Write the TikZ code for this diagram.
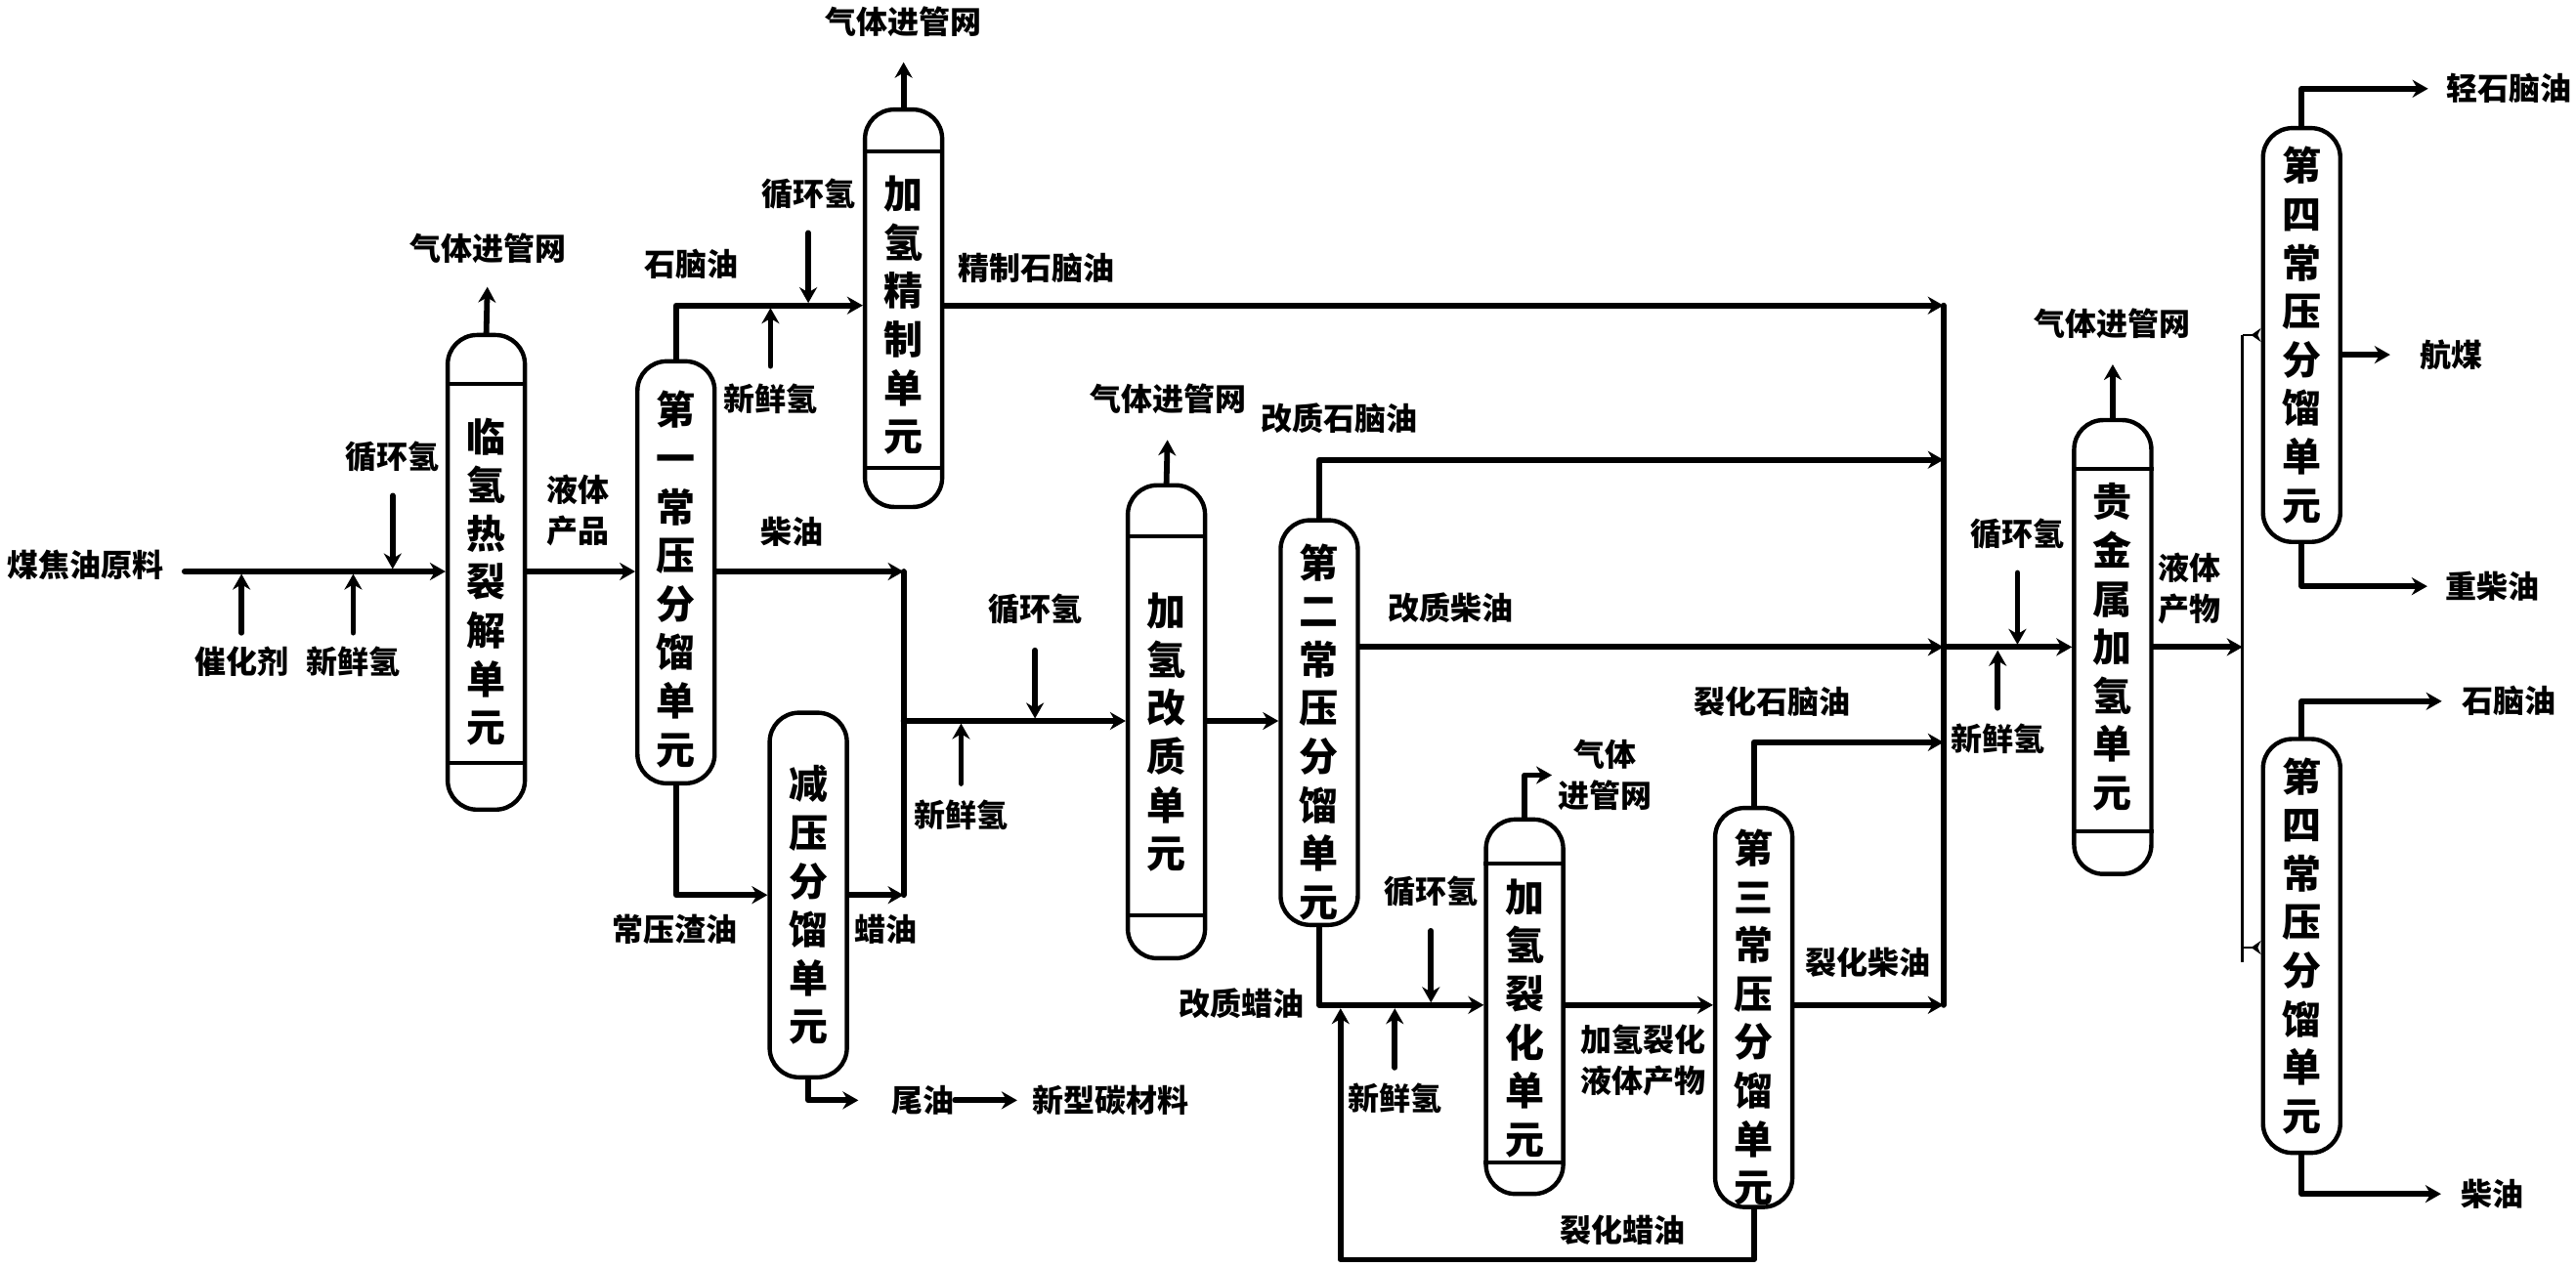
\documentclass[tikz,border=0pt]{standalone}
\usepackage{fontspec}
\newfontfamily\cjk{Noto Sans CJK SC}
\usetikzlibrary{arrows.meta,calc}
\newcommand\dn[1]{\rule{0pt}{\dimexpr17.6pt+#1pt*2\relax}}
\tikzset{
  flow/.style={line width=2.9pt,line join=round,line cap=round,-{Stealth[length=8pt,width=9pt]}},
  pipe/.style={line width=2.9pt,line join=round,line cap=round},
  thinflow/.style={line width=1.2pt,-{Stealth[reversed,length=5pt,width=7pt]}},
  thinpipe/.style={line width=1.4pt},
  headline/.style={line width=2pt},
  vessel/.style={draw,line width=2.2pt,rounded corners=15pt,fill=white,align=center,inner sep=0pt,
     minimum width=47*0.8405pt,font=\cjk\bfseries\fontsize{20}{24.8}\selectfont},
  tag/.style={inner sep=0pt,align=center,font=\cjk\bfseries\fontsize{16}{21}\selectfont},
}
\begin{document}
\begin{tikzpicture}[x=0.8405pt,y=-0.8405pt]
\useasboundingbox (0,0) rectangle (1568,771);
% levels
\coordinate (lvA) at (0,348);
\coordinate (lvB) at (0,186);
\coordinate (lvC) at (0,545);
\coordinate (lvD) at (0,439);
\coordinate (lvE) at (0,280);
\coordinate (lvF) at (0,394);
\coordinate (lvG) at (0,612);
\coordinate (lvH) at (0,452);
\coordinate (lvI) at (0,767);
\coordinate (lvJ) at (0,204);
\coordinate (lvK) at (0,577);
\coordinate (lvL) at (0,586);
\coordinate (bus) at (550,0);
\coordinate (busb) at (1183,0);
\coordinate (busc) at (1365,0);
\coordinate (recyc) at (816,0);
% vessels
\node[vessel,minimum height=289*0.8405pt] (v1) at (296,348.5) {\dn{4.6}临\\氢\\热\\裂\\解\\单\\元};
\node[vessel,minimum height=257*0.8405pt] (v2) at (411.5,348.5) {\dn{3.4}第\\一\\常\\压\\分\\馏\\单\\元};
\node[vessel,minimum height=242*0.8405pt] (v3) at (550,187.7) {\dn{3.2}加\\氢\\精\\制\\单\\元};
\node[vessel,minimum height=222*0.8405pt] (v4) at (492,545) {\dn{5}减\\压\\分\\馏\\单\\元};
\node[vessel,minimum height=288*0.8405pt] (v5) at (710,439.5) {\dn{5}加\\氢\\改\\质\\单\\元};
\node[vessel,minimum height=246.4*0.8405pt] (v6) at (803,440) {\dn{4.6}第\\二\\常\\压\\分\\馏\\单\\元};
\node[vessel,minimum height=228*0.8405pt] (v7) at (928,613) {\dn{5.5}加\\氢\\裂\\化\\单\\元};
\node[vessel,minimum height=243*0.8405pt] (v8) at (1067.5,613.5) {\dn{5}第\\三\\常\\压\\分\\馏\\单\\元};
\node[vessel,minimum height=276.4*0.8405pt] (v9) at (1286,394) {贵\\金\\属\\加\\氢\\单\\元};
\node[vessel,minimum height=252*0.8405pt] (v10) at (1401,204) {第\\四\\常\\压\\分\\馏\\单\\元};
\node[vessel,minimum height=252*0.8405pt] (v11) at (1401,576) {第\\四\\常\\压\\分\\馏\\单\\元};
% head and foot lines
\draw[headline] (v1.west |- 0,234) -- (v1.east |- 0,234);
\draw[headline] (v1.west |- 0,464.6) -- (v1.east |- 0,464.6);
\draw[headline] (v3.west |- 0,92) -- (v3.east |- 0,92);
\draw[headline] (v3.west |- 0,285) -- (v3.east |- 0,285);
\draw[headline] (v5.west |- 0,326.6) -- (v5.east |- 0,326.6);
\draw[headline] (v5.west |- 0,557.6) -- (v5.east |- 0,557.6);
\draw[headline] (v7.west |- 0,526) -- (v7.east |- 0,526);
\draw[headline] (v7.west |- 0,708) -- (v7.east |- 0,708);
\draw[headline] (v9.west |- 0,285.5) -- (v9.east |- 0,285.5);
\draw[headline] (v9.west |- 0,506) -- (v9.east |- 0,506);
% labels
\node[tag] (feed) at (52,344) {煤焦油原料};
\node[tag] (rec1) at (239,278) {循环氢};
\node[tag] (cat) at (147,403) {催化剂};
\node[tag] (new1) at (215,403) {新鲜氢};
\node[tag] (gas1) at (297,151) {气体进管网};
\node[tag] (liq1) at (352,311) {液体\\产品};
\node[tag] (nap1) at (421,161) {石脑油};
\node[tag] (rec2) at (492,118) {循环氢};
\node[tag] (new2) at (469,243) {新鲜氢};
\node[tag] (gas2) at (550,13) {气体进管网};
\node[tag] (fnap) at (631,163) {精制石脑油};
\node[tag] (die1) at (482,324) {柴油};
\node[tag] (res1) at (411,566) {常压渣油};
\node[tag] (wax1) at (539,566) {蜡油};
\node[tag] (tail) at (562,670) {尾油};
\node[tag] (carb) at (676,670) {新型碳材料};
\node[tag] (rec3) at (630,371) {循环氢};
\node[tag] (new3) at (585,496) {新鲜氢};
\node[tag] (gas3) at (711,243) {气体进管网};
\node[tag] (gnap) at (815,255) {改质石脑油};
\node[tag] (gdie) at (883,370) {改质柴油};
\node[tag] (gwax) at (756,611) {改质蜡油};
\node[tag] (rec4) at (871,543) {循环氢};
\node[tag] (new4) at (849,669) {新鲜氢};
\node[tag] (gas4) at (977,472) {气体\\进管网};
\node[tag] (hcl) at (1000,645.5) {加氢裂化\\液体产物};
\node[tag] (cnap) at (1079,427) {裂化石脑油};
\node[tag] (cdie) at (1137,586) {裂化柴油};
\node[tag] (cwax) at (988,749) {裂化蜡油};
\node[tag] (rec5) at (1228,325) {循环氢};
\node[tag] (new5) at (1216,450) {新鲜氢};
\node[tag] (gas5) at (1286,197) {气体进管网};
\node[tag] (liq2) at (1333,358.5) {液体\\产物};
\node[tag] (lnap) at (1527,54) {轻石脑油};
\node[tag] (jet) at (1492,216) {航煤};
\node[tag] (hdie) at (1517,357) {重柴油};
\node[tag] (nap2) at (1527,427) {石脑油};
\node[tag] (die2) at (1517,727) {柴油};
% feed side
\draw[flow,shorten <=10.5pt] (feed.east |- lvA) -- (v1.west |- lvA);
\draw[flow,shorten <=7pt] (cat.north) -- ($(cat.north |- lvA)+(0,1.5)$);
\draw[flow,shorten <=7pt] (new1.north) -- ($(new1.north |- lvA)+(0,1.5)$);
\draw[flow,shorten <=12pt] (rec1.south) -- ($(rec1.south |- lvA)+(0,-1.5)$);
\draw[flow,shorten >=12pt] (v1.north) -- (gas1.south);
\draw[flow] (v1.east |- lvA) -- (v2.west |- lvA);
% first fractionator
\draw[flow] (v2.north) |- (v3.west |- lvB);
\draw[flow,shorten <=12pt] (rec2.south) -- ($(rec2.south |- lvB)+(0,-1.5)$);
\draw[flow,shorten <=9pt] (new2.north) -- ($(new2.north |- lvB)+(0,1.5)$);
\draw[flow,shorten >=13pt] (v3.north) -- (gas2.south);
\draw[flow] (v3.east |- lvB) -- (busb |- lvB);
\draw[flow] (v2.east |- lvA) -- (bus |- lvA);
\draw[flow] (v2.south) |- (v4.west |- lvC);
\draw[flow] (v4.east |- lvC) -- (bus |- lvC);
\draw[pipe] (bus |- lvA) -- (bus |- lvC);
\draw[flow,shorten >=17pt] (v4.south) |- (tail.west);
\draw[flow] (tail.east) -- ($(carb.west)+(-9,0)$);
% modification
\draw[flow] (bus |- lvD) -- (v5.west |- lvD);
\draw[flow,shorten <=13pt] (rec3.south) -- ($(rec3.south |- lvD)+(0,-1.5)$);
\draw[flow,shorten <=8pt] (new3.north) -- ($(new3.north |- lvD)+(0,1.5)$);
\draw[flow,shorten >=13pt] (v5.north) -- (gas3.south);
\draw[flow] (v5.east |- lvD) -- (v6.west |- lvD);
\draw[flow] (v6.north) |- (busb |- lvE);
\draw[flow] (v6.east |- lvF) -- (busb |- lvF);
\draw[flow] (v6.south) |- (v7.west |- lvG);
\draw[flow,shorten <=12pt] (rec4.south) -- ($(rec4.south |- lvG)+(0,-1.5)$);
\draw[flow,shorten <=8pt] (new4.north) -- ($(new4.north |- lvG)+(0,2)$);
% hydrocracking
\draw[flow,shorten >=3pt] (v7.north) |- (gas4.west);
\draw[flow] (v7.east |- lvG) -- (v8.west |- lvG);
\draw[flow] (v8.north) |- (busb |- lvH);
\draw[flow] (v8.east |- lvG) -- (busb |- lvG);
\draw[flow] (v8.south) |- (recyc |- lvI) -- ($(recyc |- lvG)+(0,2)$);
\draw[pipe] (busb |- lvB) -- (busb |- lvG);
% noble metal
\draw[flow] (busb |- lvF) -- (v9.west |- lvF);
\draw[flow,shorten <=12pt] (rec5.south) -- ($(rec5.south |- lvF)+(0,-1.5)$);
\draw[flow,shorten <=8pt] (new5.north) -- ($(new5.north |- lvF)+(0,2)$);
\draw[flow,shorten >=13pt] (v9.north) -- (gas5.south);
\draw[flow] (v9.east |- lvF) -- (busc |- lvF);
\draw[thinpipe] (busc |- lvJ) -- (busc |- lvL);
\draw[thinflow] (busc |- lvJ) -- (v10.west |- lvJ);
\draw[thinflow] (busc |- lvK) -- (v11.west |- lvK);
% product fractionators
\draw[flow,shorten >=9pt] (v10.north) |- (lnap.west);
\draw[flow,shorten >=15pt] (v10.east |- jet) -- (jet.west);
\draw[flow,shorten >=9pt] (v10.south) |- (hdie.west);
\draw[flow,shorten >=10pt] (v11.north) |- (nap2.west);
\draw[flow,shorten >=10pt] (v11.south) |- (die2.west);
\end{tikzpicture}
\end{document}
